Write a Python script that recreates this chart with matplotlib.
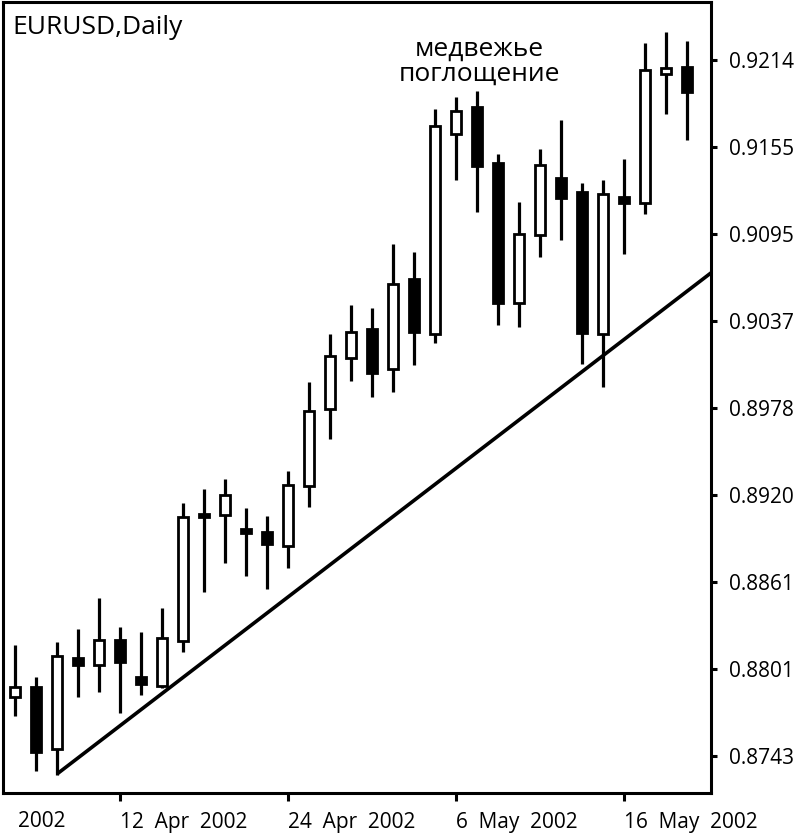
import matplotlib
matplotlib.use("Agg")
import matplotlib.pyplot as plt
from matplotlib.patches import Rectangle
import numpy as np

plt.rcParams['font.family'] = ['Open Sans', 'DejaVu Sans']

# ---- data (EURUSD daily, 5 Apr 2002 .. 21 May 2002) ----
opens = [0.87829, 0.87897, 0.87477, 0.88093, 0.88046, 0.88215, 0.87965, 0.87904,
         0.88208, 0.89068, 0.89061, 0.88966, 0.88946, 0.88851, 0.89257, 0.89778,
         0.90123, 0.90320, 0.90049, 0.90658, 0.90286, 0.91639, 0.91822, 0.91443,
         0.90496, 0.90956, 0.91341, 0.91247, 0.90286, 0.91213, 0.91172, 0.92045,
         0.92093]
highs = [0.88181, 0.87965, 0.88201, 0.88289, 0.88499, 0.88303, 0.88269, 0.88432,
         0.89142, 0.89237, 0.89305, 0.89108, 0.89054, 0.89359, 0.89961, 0.90286,
         0.90482, 0.90462, 0.90895, 0.90841, 0.91808, 0.91890, 0.91930, 0.91504,
         0.91179, 0.91538, 0.91734, 0.91308, 0.91328, 0.91470, 0.92255, 0.92329,
         0.92268]
lows = [0.87701, 0.87329, 0.87301, 0.87829, 0.87863, 0.87721, 0.87843, 0.87890,
        0.88134, 0.88540, 0.88736, 0.88648, 0.88560, 0.88702, 0.89115, 0.89575,
        0.89968, 0.89859, 0.89893, 0.90076, 0.90225, 0.91328, 0.91111, 0.90347,
        0.90333, 0.90807, 0.90922, 0.90083, 0.89927, 0.90827, 0.91098, 0.91774,
        0.91599]
closes = [0.87897, 0.87457, 0.88107, 0.88046, 0.88215, 0.88066, 0.87917, 0.88229,
          0.89047, 0.89047, 0.89196, 0.88939, 0.88865, 0.89264, 0.89765, 0.90137,
          0.90299, 0.90022, 0.90624, 0.90299, 0.91693, 0.91795, 0.91423, 0.90496,
          0.90962, 0.91429, 0.91206, 0.90292, 0.91233, 0.91172, 0.92072, 0.92086,
          0.91923]

date_tick_idx = [5, 13, 21, 29]
date_tick_labels = ["12  Apr  2002", "24  Apr  2002", "6  May  2002", "16  May  2002"]
price_tick_labels = ["0.8743", "0.8801", "0.8861", "0.8920", "0.8978",
                     "0.9037", "0.9095", "0.9155", "0.9214"]

trend_x = [2, 33.2]
trend_y = [0.87308, 0.90706]

title = "EURUSD,Daily"
annotation = "медвежье\nпоглощение"

# ---- figure ----
fig = plt.figure(figsize=(8, 8.36), dpi=100)
ax = fig.add_axes([3 / 800, 1 - 793 / 836, 708 / 800, 791 / 836])

n = len(opens)
idx = np.arange(n)
body_w = 0.50
ax.vlines(idx, lows, highs, color='black', linewidth=2.3, zorder=2)
for i in range(n):
    o, c = opens[i], closes[i]
    fc = 'white' if c >= o else 'black'
    lo = min(o, c)
    h = abs(c - o)
    ax.add_patch(Rectangle((i - body_w / 2, lo), body_w, h, facecolor=fc,
                           edgecolor='black', linewidth=2.0, zorder=3))

ax.plot(trend_x, trend_y, color='black', linewidth=2.6, zorder=4,
        solid_capstyle='butt')

ymin_tick = float(price_tick_labels[0])
ymax_tick = float(price_tick_labels[-1])
yticks = np.linspace(ymin_tick, ymax_tick, len(price_tick_labels))
step = (ymax_tick - ymin_tick) / 696.0  # per pixel
ax.set_ylim(ymin_tick - 37 * step, ymax_tick + 58 * step)
ax.set_xlim(-0.57, 33.14)

ax.yaxis.tick_right()
ax.set_yticks(yticks)
ax.set_yticklabels(price_tick_labels)
ax.tick_params(axis='y', direction='out', length=4, width=2.2, pad=9,
               labelsize=15, colors='black')

ax.set_xticks(date_tick_idx)
ax.set_xticklabels(date_tick_labels, ha='left')
ax.tick_params(axis='x', direction='out', length=6, width=2.2, pad=8,
               labelsize=15, colors='black')

for sp in ax.spines.values():
    sp.set_linewidth(2.2)
    sp.set_color('black')

# partially visible first date label
ax.text(0.13, -0.0225, "2002", transform=ax.get_xaxis_transform(),
        ha='left', va='top', fontsize=15, clip_on=False)

ax.text(0.013, 0.983, title, transform=ax.transAxes, ha='left', va='top',
        fontsize=19)
ax.text(22.1, 0.9213, annotation, ha='center', va='center', fontsize=19,
        linespacing=1.0)

fig.savefig("out.png", dpi=100)
